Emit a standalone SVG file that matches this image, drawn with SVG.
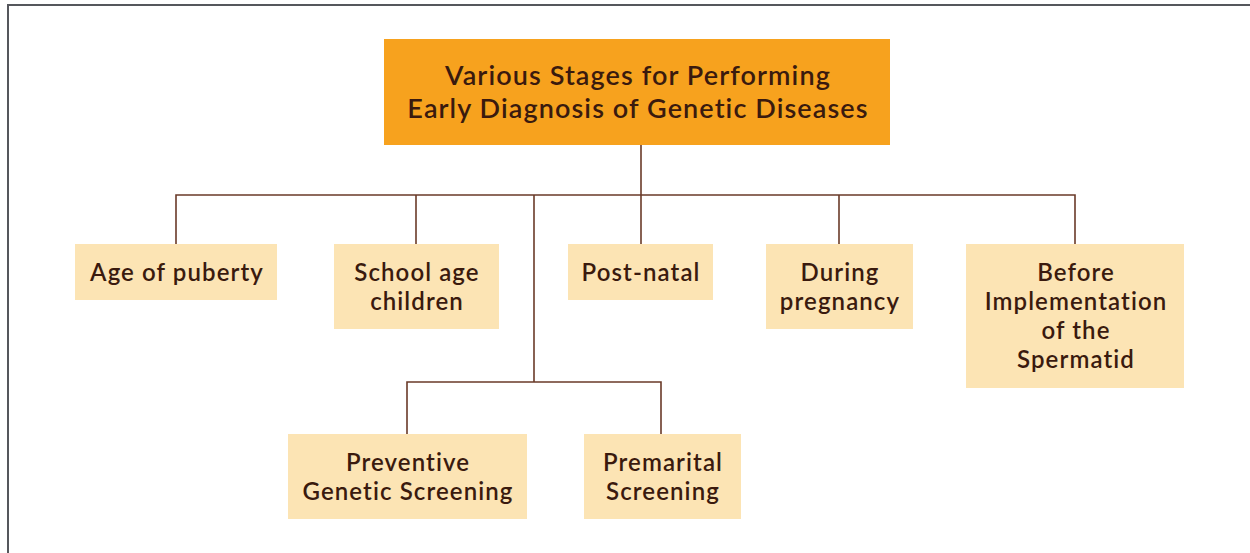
<svg xmlns="http://www.w3.org/2000/svg" width="1250" height="553" viewBox="0 0 1250 553">
  <style>
    .title { fill: #F7A21E; }
    .box { fill: #FCE4B4; }
    .lbl { font-family: Lato, "Open Sans", "Liberation Sans", sans-serif; font-size: 24px; font-weight: 600; letter-spacing: 1.1px; font-variant-ligatures: none; fill: #3A1A0E; text-anchor: middle; }
    .ttl { font-family: Lato, "Open Sans", "Liberation Sans", sans-serif; font-size: 27px; font-weight: 600; letter-spacing: 1.1px; font-variant-ligatures: none; fill: #3A1A0E; text-anchor: middle; }
    .wire { fill: none; stroke: #6A3A28; stroke-width: 1.6; }
    .frame { fill: none; stroke: #55575c; stroke-width: 2; }
  </style>
  <rect width="1250" height="553" fill="#ffffff"/>
  <!-- page frame (top and left rules) -->
  <path class="frame" d="M8,553 V5 H1250"/>

  <g id="connectors">
    <path class="wire" d="M641,145 V195"/>
    <path class="wire" d="M176,244 V195 H1075 V244"/>
    <path class="wire" d="M416,195 V244"/>
    <path class="wire" d="M641,195 V244"/>
    <path class="wire" d="M839,195 V244"/>
    <path class="wire" d="M534,195 V382"/>
    <path class="wire" d="M407,434 V382 H661 V434"/>
  </g>

  <g id="root">
    <rect class="title" x="384" y="39" width="506" height="106"/>
    <text class="ttl" x="638" y="85">Various Stages for Performing</text>
    <text class="ttl" x="638" y="118">Early Diagnosis of Genetic Diseases</text>
  </g>

  <g id="puberty">
    <rect class="box" x="75" y="244" width="202" height="56"/>
    <text class="lbl" x="177" y="281">Age of puberty</text>
  </g>

  <g id="school">
    <rect class="box" x="334" y="244" width="165" height="85"/>
    <text class="lbl" x="417" y="281">School age</text>
    <text class="lbl" x="417" y="310">children</text>
  </g>

  <g id="postnatal">
    <rect class="box" x="568" y="244" width="145" height="56"/>
    <text class="lbl" x="641" y="281">Post-natal</text>
  </g>

  <g id="pregnancy">
    <rect class="box" x="766" y="244" width="147" height="85"/>
    <text class="lbl" x="840" y="281">During</text>
    <text class="lbl" x="840" y="310">pregnancy</text>
  </g>

  <g id="spermatid">
    <rect class="box" x="966" y="244" width="218" height="144"/>
    <text class="lbl" x="1076" y="281">Before</text>
    <text class="lbl" x="1076" y="310">Implementation</text>
    <text class="lbl" x="1076" y="339">of the</text>
    <text class="lbl" x="1076" y="368">Spermatid</text>
  </g>

  <g id="preventive">
    <rect class="box" x="288" y="434" width="239" height="85"/>
    <text class="lbl" x="408" y="471">Preventive</text>
    <text class="lbl" x="408" y="500">Genetic Screening</text>
  </g>

  <g id="premarital">
    <rect class="box" x="584" y="434" width="157" height="85"/>
    <text class="lbl" x="663" y="471">Premarital</text>
    <text class="lbl" x="663" y="500">Screening</text>
  </g>
</svg>
